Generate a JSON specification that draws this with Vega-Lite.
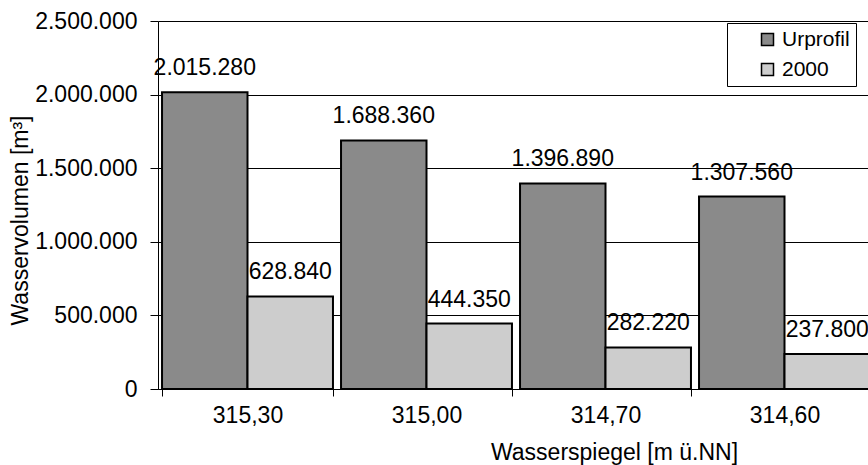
{
  "$schema": "https://vega.github.io/schema/vega-lite/v6.json",
  "width": 716,
  "height": 368,
  "autosize": {"type": "none"},
  "padding": {"left": 158, "top": 21, "right": 0, "bottom": 76},
  "background": "white",
  "config": {
    "locale": {"number": {"decimal": ",", "thousands": ".", "grouping": [3], "currency": ["", " €"]}},
    "font": "Liberation Sans",
    "view": {"stroke": null},
    "axis": {
      "labelColor": "#000",
      "titleColor": "#000",
      "domainColor": "#000",
      "tickColor": "#000",
      "labelFontSize": 23,
      "titleFontSize": 23,
      "titleFontWeight": "normal",
      "domainWidth": 1,
      "tickWidth": 1
    }
  },
  "data": {
    "values": [
      {"wasserspiegel": "315,30", "serie": "Urprofil", "volumen": 2015280},
      {"wasserspiegel": "315,30", "serie": "2000", "volumen": 628840},
      {"wasserspiegel": "315,00", "serie": "Urprofil", "volumen": 1688360},
      {"wasserspiegel": "315,00", "serie": "2000", "volumen": 444350},
      {"wasserspiegel": "314,70", "serie": "Urprofil", "volumen": 1396890},
      {"wasserspiegel": "314,70", "serie": "2000", "volumen": 282220},
      {"wasserspiegel": "314,60", "serie": "Urprofil", "volumen": 1307560},
      {"wasserspiegel": "314,60", "serie": "2000", "volumen": 237800}
    ]
  },
  "encoding": {
    "x": {
      "field": "wasserspiegel",
      "type": "nominal",
      "sort": null,
      "scale": {"paddingInner": 0.045, "paddingOuter": 0.0225},
      "axis": {
        "title": "Wasserspiegel [m ü.NN]",
        "labelAngle": 0,
        "tickBand": "extent",
        "tickSize": 7,
        "labelPadding": 8,
        "grid": false,
        "titleX": 456,
        "titleY": 70,
        "titleBaseline": "alphabetic"
      }
    },
    "xOffset": {"field": "serie", "sort": ["Urprofil", "2000"]},
    "y": {
      "field": "volumen",
      "type": "quantitative",
      "scale": {"domain": [0, 2500000]},
      "axis": {
        "title": "Wasservolumen [m³]",
        "values": [0, 500000, 1000000, 1500000, 2000000, 2500000],
        "format": ",d",
        "tickSize": 8,
        "labelPadding": 13,
        "grid": true,
        "gridColor": "#000",
        "gridOpacity": 1,
        "gridWidth": 1,
        "titleX": -126,
        "titleY": 199
      }
    }
  },
  "layer": [
    {
      "mark": {"type": "bar", "stroke": "#000", "strokeWidth": 2},
      "encoding": {
        "color": {
          "field": "serie",
          "type": "nominal",
          "scale": {"domain": ["Urprofil", "2000"], "range": ["#8a8a8a", "#cdcdcd"]},
          "legend": {
            "orient": "none",
            "legendX": 569,
            "legendY": 2,
            "title": null,
            "strokeColor": "#000",
            "fillColor": "white",
            "padding": 6,
            "symbolType": "square",
            "symbolSize": 144,
            "symbolStrokeColor": "#000",
            "symbolStrokeWidth": 1.5,
            "symbolOffset": 24,
            "labelOffset": 4,
            "labelFontSize": 21,
            "labelColor": "#000",
            "rowPadding": 8
          }
        }
      }
    },
    {
      "mark": {"type": "text", "baseline": "alphabetic", "dy": -17, "fontSize": 23, "color": "#000"},
      "encoding": {"text": {"field": "volumen", "type": "quantitative", "format": ",d"}}
    }
  ]
}
